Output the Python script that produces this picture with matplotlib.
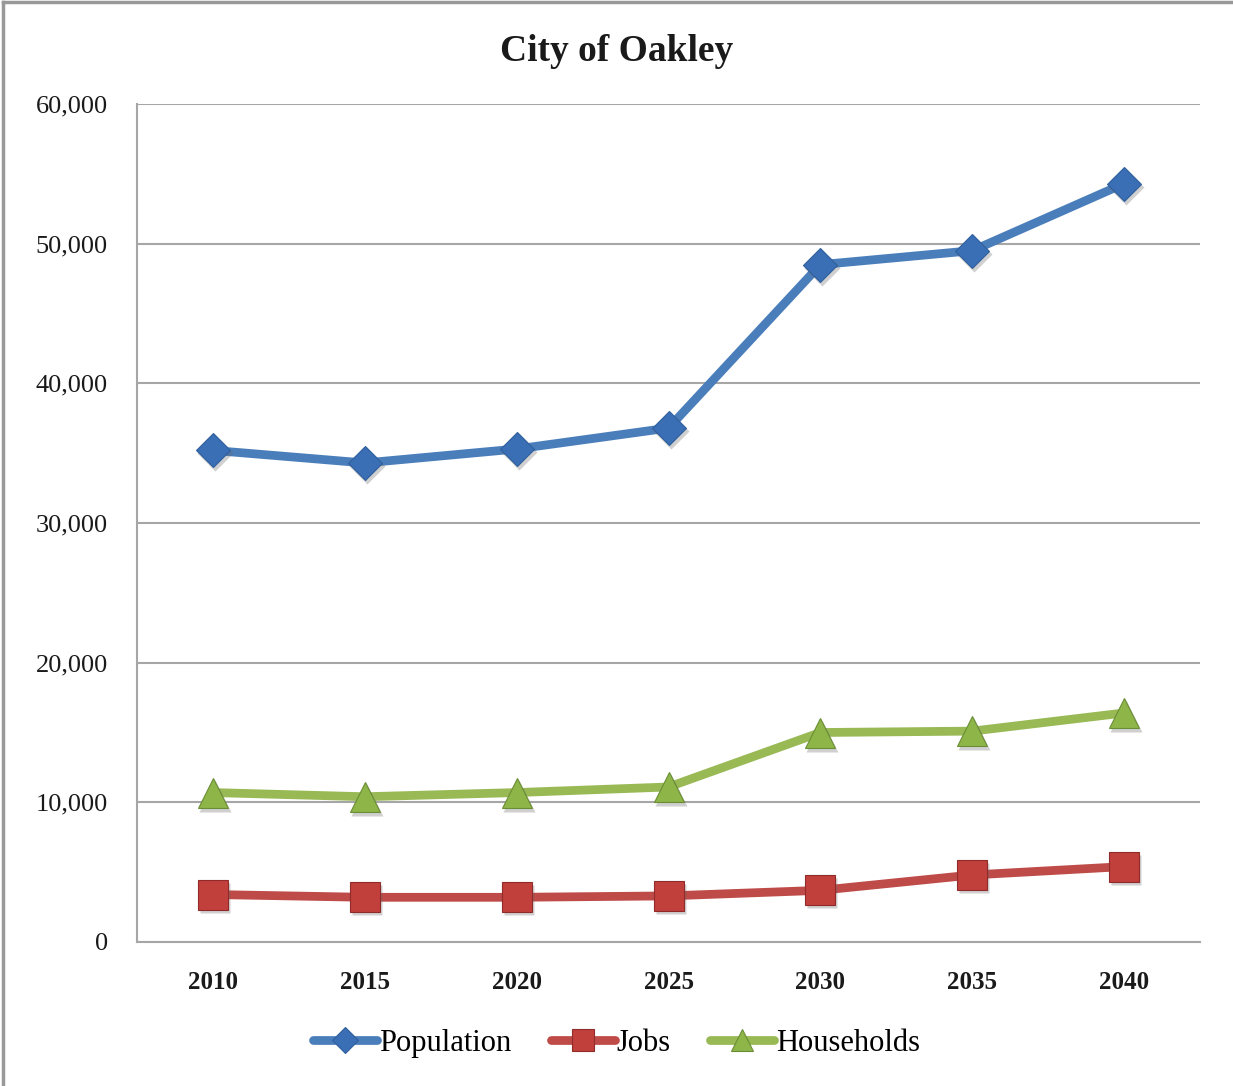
import matplotlib.pyplot as plt
import matplotlib.transforms as mtransforms
from matplotlib.lines import Line2D
from matplotlib.ticker import FuncFormatter

years = ["2010", "2015", "2020", "2025", "2030", "2035", "2040"]
population = [35200, 34300, 35300, 36800, 48500, 49500, 54300]
jobs = [3400, 3200, 3200, 3300, 3700, 4800, 5400]
households = [10700, 10400, 10700, 11100, 15000, 15100, 16400]

serif = "Liberation Serif"
grid_col = "#a6a6a6"

fig = plt.figure(figsize=(12.33, 10.86), dpi=100)
ax = fig.add_axes([0.1111, 0.1326, 0.8622, 0.7716])

series = [
    ("Population", population, "#4a7ebb", "#3a6fb5", "#2f5f9c", "D", 17),
    ("Jobs", jobs, "#be4b48", "#c2403c", "#8f2c2a", "s", 21),
    ("Households", households, "#98b954", "#8db548", "#6b8d35", "^", 22),
]

x = list(range(len(years)))
shadow_tr = mtransforms.offset_copy(ax.transData, fig=fig, x=2, y=-3, units="dots")
handles = []
for name, vals, lc, mc, ec, mk, ms in series:
    ax.plot(x, vals, color=lc, lw=6.3, solid_capstyle="round", zorder=3)
    # soft drop shadow under each marker
    ax.plot(x, vals, ls="none", marker=mk, ms=ms + 1, mfc="#666666", mec="none",
            alpha=0.3, zorder=3.5, transform=shadow_tr)
    ax.plot(x, vals, ls="none", marker=mk, ms=ms, mfc=mc, mec=ec, mew=0.8,
            zorder=4)
    handles.append(Line2D([0], [0], color=lc, lw=6.3, solid_capstyle="round",
                          marker=mk, ms=ms * 0.75, mfc=mc, mec=ec, mew=0.8,
                          label=name))

ax.set_xlim(-0.5, len(years) - 0.5)
ax.set_ylim(0, 60000)
ax.set_yticks(range(0, 60001, 10000))
ax.yaxis.set_major_formatter(FuncFormatter(lambda v, p: f"{int(v):,}"))
ax.set_xticks(x)
ax.set_xticklabels(years)

ax.grid(axis="y", color=grid_col, lw=1.5)
ax.set_axisbelow(True)
for s in ["top", "right"]:
    ax.spines[s].set_visible(False)
for s in ["left", "bottom"]:
    ax.spines[s].set_color(grid_col)
    ax.spines[s].set_linewidth(1.5)
ax.tick_params(length=0)
ax.tick_params(axis="y", pad=21, labelsize=19)
ax.tick_params(axis="x", pad=21, labelsize=18)
for lab in ax.get_yticklabels() + ax.get_xticklabels():
    lab.set_fontfamily(serif)
    lab.set_color("#1a1a1a")
for lab in ax.get_xticklabels():
    lab.set_fontweight("bold")

fig.text(0.5, 0.953, "City of Oakley", ha="center", va="center",
         fontsize=27, fontweight="bold", family=serif, color="#1a1a1a")

fig.legend(handles=handles, loc="center", bbox_to_anchor=(0.5, 0.039), ncol=3,
           frameon=False, handlelength=2.1, handletextpad=0.05, columnspacing=1.3,
           prop={"family": serif, "size": 22})

# outer chart frame
fig.add_artist(Line2D([0.0025, 0.0025], [0, 0.998], color="#999999", lw=2.5,
                      transform=fig.transFigure))
fig.add_artist(Line2D([0.0025, 1], [0.998, 0.998], color="#999999", lw=2.5,
                      transform=fig.transFigure))

fig.savefig("out.png", dpi=100)
